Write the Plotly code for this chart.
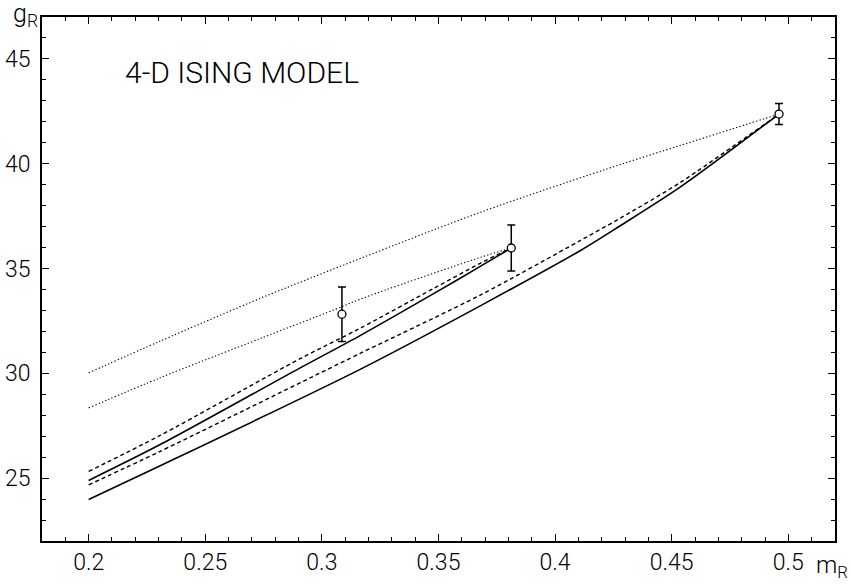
import plotly.graph_objects as go

# ---- data ----
# measured points with error bars
mR_pts = [0.3086, 0.3812, 0.496]
gR_pts = [32.82, 35.98, 42.37]
gR_err = [1.30, 1.10, 0.50]

# upper pair (end at second point)
x_upper = [0.2, 0.2307, 0.2907, 0.3164, 0.3479, 0.3679, 0.3812]
g_upper_dashed = [25.32, 27.04, 30.70, 32.15, 34.05, 35.25, 35.98]
g_upper_solid = [24.89, 26.60, 30.26, 31.80, 33.80, 35.10, 35.98]

# lower pair (end at third point)
x_lower = [0.2, 0.2307, 0.3164, 0.3679, 0.4107, 0.4279, 0.4536, 0.496]
g_lower_dashed = [24.68, 26.28, 30.95, 33.73, 36.33, 37.40, 39.10, 42.37]
g_lower_solid = [23.98, 25.59, 30.19, 33.22, 35.85, 37.04, 38.88, 42.37]

# dotted lines
x_dot_up = [0.2, 0.2307, 0.2736, 0.2921, 0.3679, 0.4279, 0.4536, 0.496]
g_dot_up = [30.02, 31.54, 33.58, 34.41, 37.68, 39.96, 40.87, 42.37]
x_dot_lo = [0.2, 0.2307, 0.2736, 0.3086, 0.3164, 0.3679, 0.3812]
g_dot_lo = [28.35, 29.79, 31.66, 33.18, 33.54, 35.53, 35.98]

x_tick_vals = [0.2, 0.25, 0.3, 0.35, 0.4, 0.45, 0.5]
x_tick_text = ["0.2", "0.25", "0.3", "0.35", "0.4", "0.45", "0.5"]
y_tick_vals = [25, 30, 35, 40, 45]
y_tick_text = ["25", "30", "35", "40", "45"]

title_text = "4-D ISING MODEL"
FONT = "Roboto, DejaVu Sans, sans-serif"

W, H = 851, 584
L, T, R, B = 42, 17, 16, 43
PW, PH = W - L - R, H - T - B

fig = go.Figure()

def line(x, y, dash, width):
    fig.add_trace(go.Scatter(x=x, y=y, mode="lines",
                             line=dict(color="black", width=width, dash=dash,
                                       shape="spline", smoothing=0.8),
                             hoverinfo="skip", showlegend=False))

line(x_dot_up, g_dot_up, "1.3px,2.2px", 1.1)
line(x_dot_lo, g_dot_lo, "1.3px,2.2px", 1.1)
line(x_upper, g_upper_dashed, "4px,3px", 1.4)
line(x_upper, g_upper_solid, "solid", 1.6)
line(x_lower, g_lower_dashed, "4px,3px", 1.4)
line(x_lower, g_lower_solid, "solid", 1.6)

fig.add_trace(go.Scatter(
    x=mR_pts, y=gR_pts, mode="markers",
    marker=dict(symbol="circle", size=8, color="white",
                line=dict(color="black", width=1.3)),
    error_y=dict(type="data", array=gR_err, visible=True,
                 color="black", thickness=1.5, width=4),
    showlegend=False))

axis_common = dict(
    showgrid=False, zeroline=False, showline=True, linecolor="black",
    linewidth=1.6, mirror="ticks", ticks="inside", tickcolor="black",
    tickwidth=1.2, ticklen=7, automargin=False,
    tickfont=dict(family=FONT, size=23, color="black", weight=300),
)

fig.update_xaxes(range=[0.18, 0.52], tickvals=x_tick_vals, ticktext=x_tick_text,
                 minor=dict(dtick=0.01, tick0=0.2, ticks="inside", ticklen=4,
                            tickcolor="black", tickwidth=1),
                 **axis_common)
fig.update_yaxes(range=[22, 47], tickvals=y_tick_vals, ticktext=y_tick_text,
                 minor=dict(dtick=1, tick0=22, ticks="inside", ticklen=4,
                            tickcolor="black", tickwidth=1),
                 ticklabelstandoff=5,
                 **axis_common)

def px(xabs):
    return (xabs - L) / PW

def py(yabs):
    return 1 - (yabs - T) / PH

fig.add_annotation(text=title_text, xref="paper", yref="paper",
                   x=px(123), y=py(72),
                   xanchor="left", yanchor="middle", showarrow=False,
                   font=dict(family=FONT, size=30, color="black", weight=300))
fig.add_annotation(text="g<sub>R</sub>", xref="paper", yref="paper",
                   x=px(11), y=py(15),
                   xanchor="left", yanchor="middle", showarrow=False,
                   font=dict(family=FONT, size=25, color="black", weight=300))
fig.add_annotation(text="m<sub>R</sub>", xref="paper", yref="paper",
                   x=px(814), y=py(566),
                   xanchor="left", yanchor="middle", showarrow=False,
                   font=dict(family=FONT, size=24, color="black", weight=300))

fig.update_layout(
    width=W, height=H,
    margin=dict(l=L, r=R, t=T, b=B),
    paper_bgcolor="white", plot_bgcolor="white",
    showlegend=False,
)

# remove the browser's default 8px page margin so the figure fills the window
fig.write_html("out.html",
               config={"displayModeBar": False},
               post_script="document.body.style.margin='0';document.body.style.overflow='hidden';")
